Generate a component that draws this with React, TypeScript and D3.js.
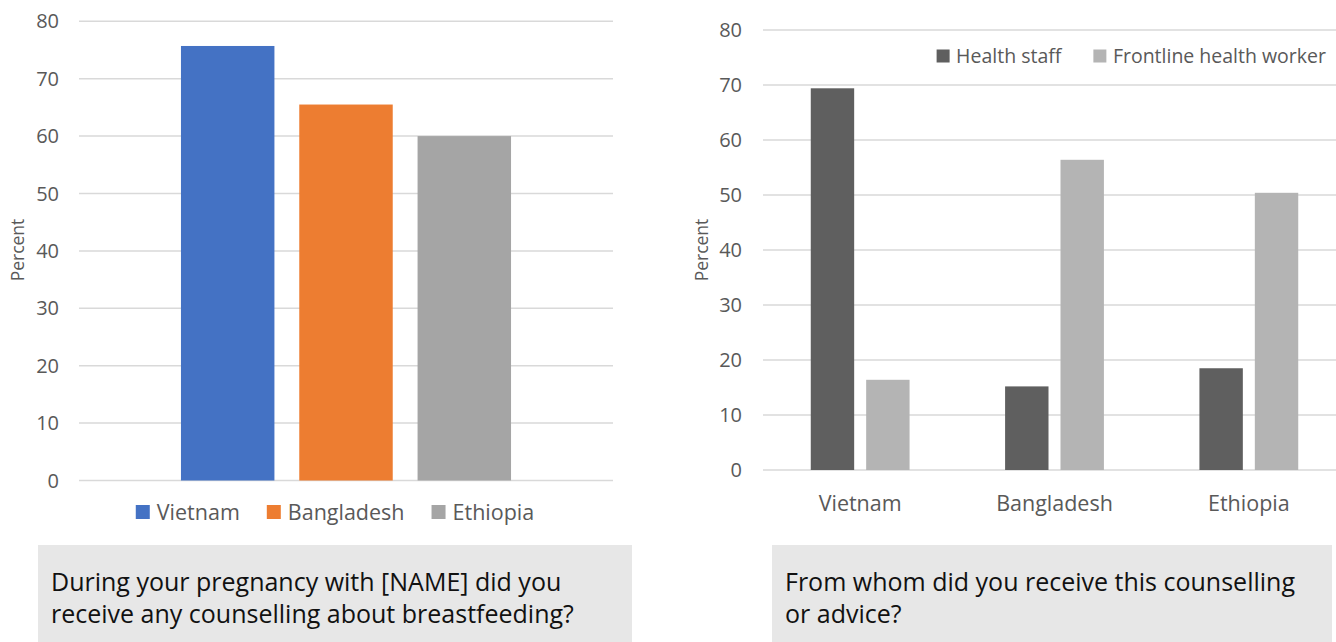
import { useEffect, useRef } from 'react';
import * as d3 from 'd3';

const countries = ['Vietnam', 'Bangladesh', 'Ethiopia'];
const counselledPct = [75.7, 65.5, 60.0];
const sources = ['Health staff', 'Frontline health worker'];
const healthStaffPct = [69.4, 15.2, 18.5];
const frontlinePct = [16.4, 56.4, 50.4];
const yTicks = [0, 10, 20, 30, 40, 50, 60, 70, 80];
const leftCaption = ['During your pregnancy with [NAME] did you', 'receive any counselling about breastfeeding?'];
const rightCaption = ['From whom did you receive this counselling', 'or advice?'];

const countryColors = ['#4472C4', '#ED7D31', '#A5A5A5'];
const sourceColors = ['#5F5F5F', '#B4B4B4'];
const gridColor = '#D9D9D9';
const labelColor = '#595959';
const font = '"Open Sans", sans-serif';

export default function App() {
    const svgRef = useRef<SVGSVGElement>(null);
    const width = 1336;
    const height = 642;

    useEffect(() => {
        document.body.style.margin = '0';
        if (!svgRef.current) return;
        const svg = d3.select(svgRef.current);
        svg.selectAll('*').remove();

        // ---- left chart: any counselling
        const yL = d3.scaleLinear().domain([0, 80]).range([480.5, 21.3]);
        const xGroup = d3.scaleBand().domain(['all']).range([79, 613]).paddingInner(0.236).paddingOuter(0.236);
        const xBar = d3.scaleBand().domain(countries).range([0, xGroup.bandwidth()]).paddingInner(0.21);
        const left = svg.append('g');

        left.selectAll('line.grid')
            .data(yTicks)
            .enter()
            .append('line')
            .attr('x1', 79)
            .attr('x2', 613)
            .attr('y1', d => yL(d))
            .attr('y2', d => yL(d))
            .attr('stroke', gridColor)
            .attr('stroke-width', 1.5);

        left.selectAll('text.tick')
            .data(yTicks)
            .enter()
            .append('text')
            .attr('x', 59)
            .attr('y', d => yL(d))
            .attr('dy', '0.35em')
            .attr('text-anchor', 'end')
            .attr('font-size', '20px')
            .attr('fill', labelColor)
            .text(d => d);

        left.selectAll('rect.bar')
            .data(countries)
            .enter()
            .append('rect')
            .attr('x', d => (xGroup('all') as number) + (xBar(d) as number))
            .attr('width', xBar.bandwidth())
            .attr('y', (_, i) => yL(counselledPct[i]))
            .attr('height', (_, i) => yL(0) - yL(counselledPct[i]))
            .attr('fill', (_, i) => countryColors[i]);

        left.append('text')
            .attr('transform', 'translate(24,250) rotate(-90)')
            .attr('text-anchor', 'middle')
            .attr('font-size', '17.5px')
            .attr('fill', labelColor)
            .text('Percent');

        // legend, centred under the bars
        const legL = left.append('g');
        let cursor = 0;
        countries.forEach((c, i) => {
            const item = legL.append('g').attr('transform', `translate(${cursor},0)`);
            item.append('rect').attr('x', 0).attr('y', -7).attr('width', 14).attr('height', 14).attr('fill', countryColors[i]);
            const t = item.append('text')
                .attr('x', 21)
                .attr('dy', '0.35em')
                .attr('font-size', '21.5px')
                .attr('fill', labelColor)
                .text(c);
            const w = (t.node() as SVGTextElement).getComputedTextLength();
            cursor += 21 + w + 27;
        });
        const legWidth = cursor - 27;
        legL.attr('transform', `translate(${335 - legWidth / 2},512)`);

        // ---- right chart: source of counselling
        const yR = d3.scaleLinear().domain([0, 80]).range([470, 30]);
        const x0 = d3.scaleBand().domain(countries).range([763, 1346]);
        const x1 = d3.scaleBand().domain(sources).range([0, x0.bandwidth()]).paddingInner(0.2166).paddingOuter(0.862);
        const right = svg.append('g');
        const seriesValues = [healthStaffPct, frontlinePct];

        right.selectAll('line.grid')
            .data(yTicks)
            .enter()
            .append('line')
            .attr('x1', 763)
            .attr('x2', width)
            .attr('y1', d => yR(d))
            .attr('y2', d => yR(d))
            .attr('stroke', gridColor)
            .attr('stroke-width', 1.5);

        right.selectAll('text.tick')
            .data(yTicks)
            .enter()
            .append('text')
            .attr('x', 742)
            .attr('y', d => yR(d))
            .attr('dy', '0.35em')
            .attr('text-anchor', 'end')
            .attr('font-size', '20px')
            .attr('fill', labelColor)
            .text(d => d);

        sources.forEach((s, si) => {
            right.selectAll(`rect.s${si}`)
                .data(countries)
                .enter()
                .append('rect')
                .attr('x', d => (x0(d) as number) + (x1(s) as number))
                .attr('width', x1.bandwidth())
                .attr('y', (_, i) => yR(seriesValues[si][i]))
                .attr('height', (_, i) => yR(0) - yR(seriesValues[si][i]))
                .attr('fill', sourceColors[si]);
        });

        right.selectAll('text.cat')
            .data(countries)
            .enter()
            .append('text')
            .attr('x', d => (x0(d) as number) + x0.bandwidth() / 2)
            .attr('y', 503)
            .attr('dy', '0.35em')
            .attr('text-anchor', 'middle')
            .attr('font-size', '21.5px')
            .attr('fill', labelColor)
            .text(d => d);

        right.append('text')
            .attr('transform', 'translate(708,250) rotate(-90)')
            .attr('text-anchor', 'middle')
            .attr('font-size', '17.5px')
            .attr('fill', labelColor)
            .text('Percent');

        // legend, right-aligned near the top
        const legR = right.append('g');
        let rc = 0;
        sources.forEach((s, i) => {
            const item = legR.append('g').attr('transform', `translate(${rc},0)`);
            item.append('rect').attr('x', 0).attr('y', -6.5).attr('width', 13).attr('height', 13).attr('fill', sourceColors[i]);
            const t = item.append('text')
                .attr('x', 19.5)
                .attr('dy', '0.35em')
                .attr('font-size', '19.5px')
                .attr('fill', labelColor)
                .text(s);
            const w = (t.node() as SVGTextElement).getComputedTextLength();
            rc += 19.5 + w + 32;
        });
        const legRWidth = rc - 32;
        legR.attr('transform', `translate(${1326 - legRWidth},56)`);

        // ---- question captions
        const boxes = [
            { x: 38, w: 594, lines: leftCaption },
            { x: 772, w: 560, lines: rightCaption },
        ];
        boxes.forEach(b => {
            svg.append('rect')
                .attr('x', b.x)
                .attr('y', 545)
                .attr('width', b.w)
                .attr('height', height - 545)
                .attr('fill', '#E7E7E7');
            b.lines.forEach((line, li) => {
                svg.append('text')
                    .attr('x', b.x + 13)
                    .attr('y', 591 + li * 32)
                    .attr('font-size', '25px')
                    .attr('fill', '#111')
                    .text(line);
            });
        });
    }, []);

    return (
        <svg
            ref={svgRef}
            width={width}
            height={height}
            viewBox={`0 0 ${width} ${height}`}
            style={{ display: 'block', background: '#fff', fontFamily: font }}
        />
    );
}
